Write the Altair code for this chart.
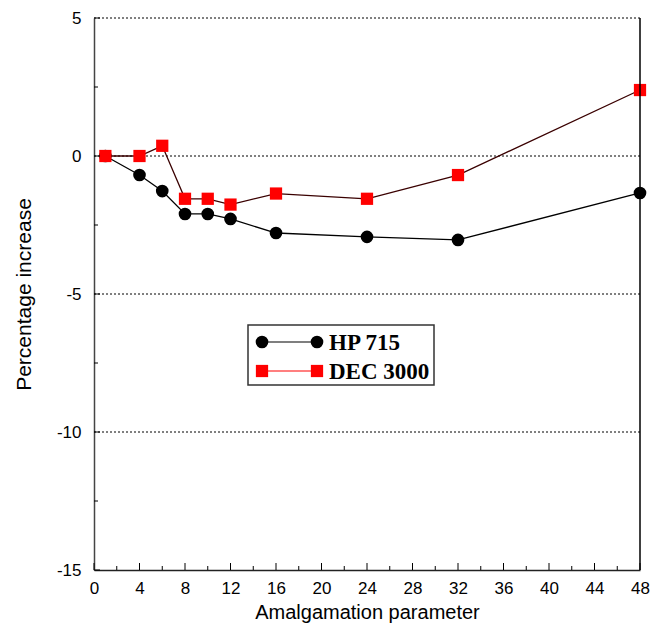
import altair as alt
import pandas as pd

# ---- data ----
x_vals = [1, 4, 6, 8, 10, 12, 16, 24, 32, 48]
hp715 = [0.0, -0.69, -1.27, -2.10, -2.10, -2.28, -2.79, -2.93, -3.04, -1.34]
dec3000 = [0.0, 0.0, 0.37, -1.55, -1.55, -1.76, -1.36, -1.55, -0.69, 2.39]

x_major = list(range(0, 49, 4))
x_minor = list(range(2, 48, 4))
y_major = [-15, -10, -5, 0, 5]
y_minor = [-12.5, -7.5, -2.5, 2.5]
grid_vals = [-10, -5, 0, 5]

series_names = ["HP 715", "DEC 3000"]

W, H = 546, 552
xs = alt.Scale(domain=[0, 48], nice=False, zero=False)
ys = alt.Scale(domain=[-15, 5], nice=False, zero=False)

FONT = "Liberation Sans"
xaxis = alt.Axis(
    values=x_major, tickSize=0, labelPadding=10, labelFontSize=17, labelFont=FONT,
    labelColor="black", labelExpr="'' + datum.value",
    title="Amalgamation parameter", titleFont=FONT,
    titleFontSize=20, titleFontWeight="normal", titleColor="black", titlePadding=6,
    grid=False, domainColor="#222", domainWidth=1.5, labelFlush=False)
yaxis = alt.Axis(
    values=y_major, tickSize=0, labelPadding=13, labelFontSize=17, labelFont=FONT,
    labelColor="black", labelExpr="'' + datum.value",
    title="Percentage increase", titleFont=FONT,
    titleFontSize=21, titleFontWeight="normal", titleColor="black", titlePadding=22,
    grid=False, domainColor="#444", domainWidth=1.5, labelFlush=False)

hp_df = pd.DataFrame({"x": x_vals, "y": hp715})
dec_df = pd.DataFrame({"x": x_vals, "y": dec3000})
grid_df = pd.DataFrame({"y": grid_vals})
xmaj_df = pd.DataFrame({"x": x_major})
xmin_df = pd.DataFrame({"x": x_minor})
ymaj_df = pd.DataFrame({"y": y_major})
ymin_df = pd.DataFrame({"y": y_minor})
one = pd.DataFrame({"a": [0]})

X = alt.X("x:Q", scale=xs, axis=xaxis)
Y = alt.Y("y:Q", scale=ys, axis=yaxis)

grid = alt.Chart(grid_df).mark_rule(color="black", strokeWidth=1, strokeDash=[2, 2]).encode(
    y=Y, x=alt.value(0), x2=alt.value(W)
)

hp_line = alt.Chart(hp_df).mark_line(color="black", strokeWidth=1.3).encode(x=X, y=Y)
dec_line = alt.Chart(dec_df).mark_line(color="#3a0000", strokeWidth=1.3).encode(x=X, y=Y)
hp_pts = alt.Chart(hp_df).mark_point(shape="circle", filled=True, color="black", size=160, opacity=1).encode(x=X, y=Y)
dec_pts = alt.Chart(dec_df).mark_point(shape="square", filled=True, color="#ff0000", size=150, opacity=1).encode(x=X, y=Y)

xmaj = alt.Chart(xmaj_df).mark_rule(color="black", strokeWidth=1).encode(
    x=X, y=alt.value(H), y2=alt.value(H - 7)
)
xmin = alt.Chart(xmin_df).mark_rule(color="black", strokeWidth=1).encode(
    x=X, y=alt.value(H), y2=alt.value(H - 4)
)
ymaj = alt.Chart(ymaj_df).mark_rule(color="black", strokeWidth=1).encode(
    y=Y, x=alt.value(0), x2=alt.value(6)
)
ymin = alt.Chart(ymin_df).mark_rule(color="black", strokeWidth=1).encode(
    y=Y, x=alt.value(0), x2=alt.value(4)
)

right_border = alt.Chart(one).mark_rule(color="black", strokeWidth=1.5).encode(
    x=alt.value(W), y=alt.value(0), y2=alt.value(H)
)

# ---- legend (drawn manually) ----
LX0, LY0, LX1, LY1 = 154, 307, 340, 367
leg_box = alt.Chart(one).mark_rect(fill="white", stroke="#333", strokeWidth=1.5).encode(
    x=alt.value(LX0), x2=alt.value(LX1), y=alt.value(LY0), y2=alt.value(LY1)
)
r1, r2 = 324, 353
m1, m2 = 168, 223
leg_l1 = alt.Chart(one).mark_rule(color="black", strokeWidth=1.2).encode(
    x=alt.value(m1), x2=alt.value(m2), y=alt.value(r1)
)
leg_l2 = alt.Chart(one).mark_rule(color="#ff5555", strokeWidth=1.5).encode(
    x=alt.value(m1), x2=alt.value(m2), y=alt.value(r2)
)
leg_c1 = alt.Chart(one).mark_point(shape="circle", filled=True, color="black", size=160, opacity=1).encode(
    x=alt.value(m1), y=alt.value(r1)
)
leg_c2 = alt.Chart(one).mark_point(shape="circle", filled=True, color="black", size=160, opacity=1).encode(
    x=alt.value(m2), y=alt.value(r1)
)
leg_s1 = alt.Chart(one).mark_point(shape="square", filled=True, color="#ff0000", size=150, opacity=1).encode(
    x=alt.value(m1), y=alt.value(r2)
)
leg_s2 = alt.Chart(one).mark_point(shape="square", filled=True, color="#ff0000", size=150, opacity=1).encode(
    x=alt.value(m2), y=alt.value(r2)
)
leg_t1 = alt.Chart(one).mark_text(
    text=series_names[0], font="Liberation Serif", fontSize=23, fontWeight="bold",
    align="left", baseline="middle", color="black"
).encode(x=alt.value(235), y=alt.value(r1 + 1))
leg_t2 = alt.Chart(one).mark_text(
    text=series_names[1], font="Liberation Serif", fontSize=23, fontWeight="bold",
    align="left", baseline="middle", color="black"
).encode(x=alt.value(235), y=alt.value(r2 + 1))

chart = alt.layer(
    grid, hp_line, dec_line, hp_pts, dec_pts, xmaj, xmin, ymaj, ymin, right_border,
    leg_box, leg_l1, leg_l2, leg_c1, leg_c2, leg_s1, leg_s2, leg_t1, leg_t2
).properties(
    width=W, height=H,
    autosize=alt.AutoSizeParams(type="none"),
    padding={"left": 94, "top": 18, "right": 14, "bottom": 56},
    background="white",
).configure_view(stroke=None)

chart.save("out.html", embed_options={"renderer": "svg", "actions": False})
